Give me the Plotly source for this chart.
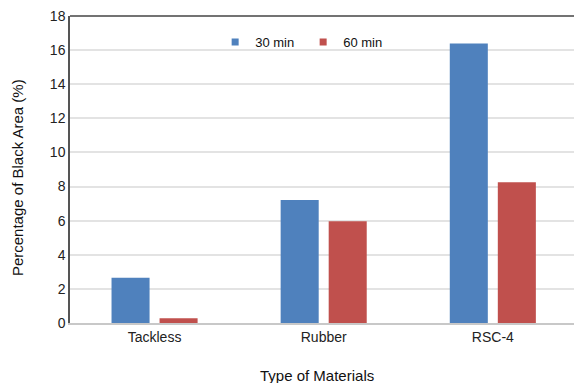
import plotly.graph_objects as go

categories = ["Tackless", "Rubber", "RSC-4"]
values_30 = [2.66, 7.21, 16.39]
values_60 = [0.28, 5.97, 8.25]
series_names = ["30 min", "60 min"]
series_colors = ["#4F81BD", "#C0504D"]
y_ticks = [0, 2, 4, 6, 8, 10, 12, 14, 16, 18]
x_title = "Type of Materials"
y_title = "Percentage of Black Area (%)"

FONT = "Liberation Sans, Arial, Helvetica, sans-serif"

fig = go.Figure()
for vals, name, col in zip([values_30, values_60], series_names, series_colors):
    fig.add_trace(go.Bar(x=categories, y=vals, name=name, legendgroup=name,
                         showlegend=False, marker=dict(color=col, line=dict(width=0))))
# legend swatches (small squares like the reference)
for name, col in zip(series_names, series_colors):
    fig.add_trace(go.Scatter(x=[None], y=[None], mode="markers", name=name,
                             legendgroup=name,
                             marker=dict(symbol="square", size=7, color=col)))

fig.update_layout(
    width=574, height=383,
    margin=dict(l=70, r=0, t=16, b=60, autoexpand=False),
    paper_bgcolor="white", plot_bgcolor="white",
    barmode="group", bargap=0.432, bargroupgap=0.208,
    font=dict(family=FONT, size=14, color="#222"),
    showlegend=True,
    legend=dict(orientation="h", x=0.288, y=0.915, xanchor="left", yanchor="middle",
                font=dict(family=FONT, size=13, color="#111"),
                itemwidth=30, entrywidth=43, bgcolor="rgba(0,0,0,0)",
                traceorder="normal"),
    xaxis=dict(
        range=[-0.5, 2.48], automargin=False,
        showline=True, linecolor="#c8c8c8", linewidth=2,
        showgrid=False, ticks="", tickfont=dict(size=14, color="#222"),
    ),
    yaxis=dict(
        range=[0, 18], tickvals=y_ticks, ticktext=[str(v) for v in y_ticks],
        automargin=False,
        showline=True, linecolor="#555555", linewidth=1.5,
        showgrid=True, gridcolor="#e3e3e3", gridwidth=1.5,
        zeroline=False, ticks="", ticklen=0,
        tickfont=dict(size=14, color="#222"),
    ),
    annotations=[
        dict(text=x_title, xref="paper", yref="paper", x=0.49, y=0, yshift=-52,
             xanchor="center", yanchor="middle", showarrow=False,
             font=dict(family=FONT, size=15, color="#111")),
        dict(text=y_title, xref="paper", yref="paper", x=0, xshift=-53, y=0.472,
             xanchor="center", yanchor="middle", textangle=-90, showarrow=False,
             font=dict(family=FONT, size=15, color="#111")),
    ],
    shapes=[dict(type="line", xref="paper", yref="paper", x0=0, x1=1, y0=1, y1=1,
                 line=dict(color="#444444", width=1.5))],
)

fig.write_html("out.html", config={"displayModeBar": False},
               post_script="document.body.style.margin='0';")
